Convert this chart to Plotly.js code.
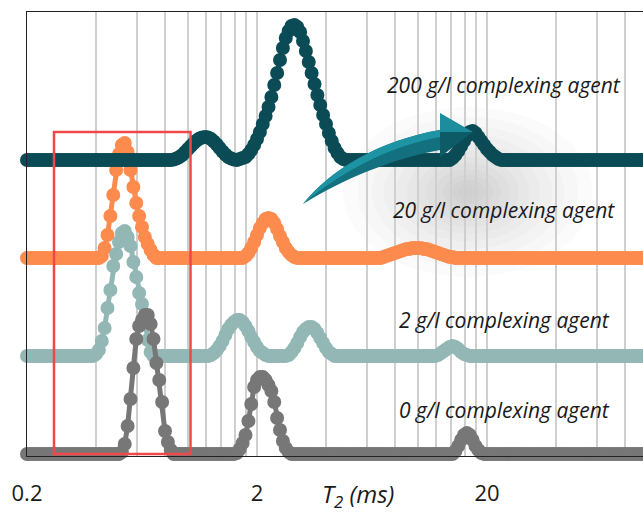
<!DOCTYPE html>
<html>
<head>
<meta charset="utf-8">
<script src="https://cdn.plot.ly/plotly-3.0.1.min.js"></script>
<style>html,body{margin:0;padding:0;background:#fff}#chart{width:643px;height:513px}</style>
</head>
<body>
<div id="chart"></div>
<script>
// T2 sampling grid (ms), log-spaced as in the measurement
const T2 = [
0.2,0.20584,0.21186,0.21804,0.2244,0.23096,0.2377,0.24464,0.25178,0.25914,
0.2667,0.2745,0.2825,0.29076,0.29924,0.30798,0.31698,0.32624,0.33576,0.34556,
0.35566,0.36604,0.37672,0.38774,0.39906,0.4107,0.4227,0.43504,0.44774,0.46082,
0.47428,0.48812,0.50238,0.51704,0.53214,0.54768,0.56368,0.58014,0.59708,0.61452,
0.63246,0.65092,0.66994,0.6895,0.70962,0.73034,0.75168,0.77362,0.79622,0.81946,
0.8434,0.86802,0.89336,0.91946,0.9463,0.97394,1.00238,1.03164,1.06238,1.09278,
1.12468,1.15752,1.19132,1.22612,1.26192,1.29876,1.33668,1.37572,1.4159,1.45724,
1.49978,1.54358,1.58866,1.63504,1.6828,1.73192,1.7825,1.83456,1.88812,1.94326,
2,2.0584,2.1186,2.1804,2.244,2.3096,2.377,2.4464,2.5178,2.5914,
2.667,2.745,2.825,2.9076,2.9924,3.0798,3.1698,3.2624,3.3576,3.4556,
3.5566,3.6604,3.7672,3.8774,3.9906,4.107,4.227,4.3504,4.4774,4.6082,
4.7428,4.8812,5.0238,5.1704,5.3214,5.4768,5.6368,5.8014,5.9708,6.1452,
6.3246,6.5092,6.6994,6.895,7.0962,7.3034,7.5168,7.7362,7.9622,8.1946,
8.434,8.6802,8.9336,9.1946,9.463,9.7394,10.0238,10.3164,10.6238,10.9278,
11.2468,11.5752,11.9132,12.2612,12.6192,12.9876,13.3668,13.7572,14.159,14.5724,
14.9978,15.4358,15.8866,16.3504,16.828,17.3192,17.825,18.3456,18.8812,19.4326,
20,20.584,21.186,21.804,22.44,23.096,23.77,24.464,25.178,25.914,
26.67,27.45,28.25,29.076,29.924,30.798,31.698,32.624,33.576,34.556,
35.566,36.604,37.672,38.774,39.906,41.07,42.27,43.504,44.774,46.082,
47.428,48.812,50.238,51.704,53.214,54.768,56.368,58.014,59.708,61.452,
63.246,65.092,66.994,68.95,70.962,73.034,75.168,77.362,79.622,81.946,
84.34,86.802,89.336,91.946,94.63,97.394
];

// amplitudes (arbitrary units) per concentration
const amp200 = [
0,0,0,0,0,0,0,0,0,0,
0,0,0,0,0,0,0,0,0,0,
0,0,0,0,0,0,0,0,0,0,
0,0,0,0,0,0,0,0,0,0,
0,0,0,0,0,0,0,0,0,0,
0,0.5,1.5,3,5,8,11,14,17,19.5,
21.5,22.5,23,22.5,21,18.5,15.5,12,8.5,5.5,
3,1.5,0.5,0,1,2,3,6,10,15,
21,28,36,44,53,63,75,87,100,112,
122,129,134,135,133,128,119,109,98,87,
76,65,55,45,36,27,19,12,7,3,
1,0,0,0,0,0,0,0,0,0,
0,0,0,0,0,0,0,0,0,0,
0,0,0,0,0,0,0,0,0,0,
0,0,0,0,0,0,0,0,2,5,
9,14,19,24,28,29,27,23,19,15,
11,8,5,3,1,0,0,0,0,0,
0,0,0,0,0,0,0,0,0,0,
0,0,0,0,0,0,0,0,0,0,
0,0,0,0,0,0,0,0,0,0,
0,0,0,0,0,0,0,0,0,0,
0,0,0,0,0,0
];
const amp20 = [
0,0,0,0,0,0,0,0,0,0,
0,0,0,0,0,0,0,0,0,0,
0,0,0,0,0,0,2,10,23,42,
63,88,104,113,115,106,88,71,55,42,
31,21,14,8,3,0,0,0,0,0,
0,0,0,0,0,0,0,0,0,0,
0,0,0,0,0,0,0,0,0,0,
0,0,0,0,0,0,2,5,10,16,
23,30,35,39,40,39,35,29,22,16,
10,6,3,1,0,0,0,0,0,0,
0,0,0,0,0,0,0,0,0,0,
0,0,0,0,0,0,0,0,0,0,
0,0,0,0,1,2,3,4,5,6,
7,8,9,9,10,10,10,10,9,9,
8,7,6,5,4,3,2,1,1,0,
0,0,0,0,0,0,0,0,0,0,
0,0,0,0,0,0,0,0,0,0,
0,0,0,0,0,0,0,0,0,0,
0,0,0,0,0,0,0,0,0,0,
0,0,0,0,0,0,0,0,0,0,
0,0,0,0,0,0,0,0,0,0,
0,0,0,0,0,0
];
const amp2 = [
0,0,0,0,0,0,0,0,0,0,
0,0,0,0,0,0,0,0,0,0,
0,0,0,0,2,6,15,28,48,66,
90,102,114,123,125,119,110,94,79,63,
52,38,16,4,0,0,0,0,0,0,
0,0,0,0,0,0,0,0,0,0,
0,0,0,0,1,3,6,10,15,21,
27,31,34,36,36,34,30,25,19,14,
9,5,3,1,0,0,0,0,0,0,
0,1,4,8,13,19,24,27,29,29,
27,23,18,13,8,4,2,0,0,0,
0,0,0,0,0,0,0,0,0,0,
0,0,0,0,0,0,0,0,0,0,
0,0,0,0,0,0,0,0,0,0,
0,0,0,1,3,5,7,9,10,9,
7,4,2,1,0,0,0,0,0,0,
0,0,0,0,0,0,0,0,0,0,
0,0,0,0,0,0,0,0,0,0,
0,0,0,0,0,0,0,0,0,0,
0,0,0,0,0,0,0,0,0,0,
0,0,0,0,0,0,0,0,0,0,
0,0,0,0,0,0
];
const amp0 = [
0,0,0,0,0,0,0,0,0,0,
0,0,0,0,0,0,0,0,0,0,
0,0,0,0,0,0,0,0,0,0,
0,0,0,2,10,28,55,86,115,128,
134,139,139,130,115,91,74,52,23,12,
4,0,0,0,0,0,0,0,0,0,
0,0,0,0,0,0,0,0,0,0,
0,0,0,1,5,11,19,33,50,67,
74,77,77,74,69,63,52,36,24,13,
6,2,0,0,0,0,0,0,0,0,
0,0,0,0,0,0,0,0,0,0,
0,0,0,0,0,0,0,0,0,0,
0,0,0,0,0,0,0,0,0,0,
0,0,0,0,0,0,0,0,0,0,
0,0,0,0,0,0,0,0,0,3,
8,14,19,21,19,14,8,4,1,0,
0,0,0,0,0,0,0,0,0,0,
0,0,0,0,0,0,0,0,0,0,
0,0,0,0,0,0,0,0,0,0,
0,0,0,0,0,0,0,0,0,0,
0,0,0,0,0,0,0,0,0,0,
0,0,0,0,0,0
];

const seriesLabels = ['200 g/l complexing agent','20 g/l complexing agent','2 g/l complexing agent','0 g/l complexing agent'];
const tickVals = [0.2, 2, 20];
const tickLabels = ['0.2', '2', '20'];
const gridVals = [0.4,0.6,0.8,1,1.2,1.4,1.6,1.8,4,6,8,10,12,14,16,18,40,60,80];

// ---- presentation ----
const offsets = {c200:296, c20:198, c2:100, c0:2};
const colors = {c200:'#0b4b55', c20:'#fd8b4e', c2:'#93b7b5', c0:'#777777'};
const FONT = 'Open Sans, "Segoe UI", sans-serif';
const GRID = '#cfcfcf';

function trace(amps, off, color){
  return {
    x: T2, y: amps.map(v => v + off), type:'scatter', mode:'lines+markers',
    line:{color:color, width:5}, marker:{color:color, size:14, line:{width:0}},
    cliponaxis:false, hoverinfo:'skip', showlegend:false
  };
}
const data = [
  trace(amp20, offsets.c20, colors.c20),
  trace(amp200, offsets.c200, colors.c200),
  trace(amp2, offsets.c2, colors.c2),
  trace(amp0, offsets.c0, colors.c0)
];

const L=27, R=643, TOP=12, BOT=456;
const px2x = p => (p-L)/(R-L);
const py2y = p => (BOT-p)/(BOT-TOP);
const pt = (x,y) => px2x(x).toFixed(4)+','+py2y(y).toFixed(4);

const shapes = [];
// soft shadow under the arrow
[[125,85],[110,75],[96,66],[84,57],[72,49],[61,42],[51,35],[42,29],[33,23],[25,17],[17,12],[10,7]].forEach(r=>{
  shapes.push({type:'circle', xref:'paper', yref:'paper', layer:'below',
    x0:px2x(468-r[0]), x1:px2x(468+r[0]), y0:py2y(192+r[1]), y1:py2y(192-r[1]),
    fillcolor:'rgba(80,80,80,0.022)', line:{width:0}});
});
// arrow body
shapes.push({type:'path', xref:'paper', yref:'paper', layer:'above',
  path:`M${pt(303,204)} C${pt(330,170)} ${pt(380,140)} ${pt(440,130)} L${pt(440,150)} C${pt(395,158)} ${pt(345,178)} ${pt(303,204)} Z`,
  fillcolor:'#13707f', line:{width:0}});
shapes.push({type:'path', xref:'paper', yref:'paper', layer:'above',
  path:`M${pt(303,204)} C${pt(330,170)} ${pt(380,140)} ${pt(440,130)} L${pt(440,137)} C${pt(388,146)} ${pt(338,174)} ${pt(303,204)} Z`,
  fillcolor:'#1d93a3', line:{width:0}});
// arrow head
shapes.push({type:'path', xref:'paper', yref:'paper', layer:'above',
  path:`M${pt(440,113)} L${pt(473,132)} L${pt(440,132)} Z`, fillcolor:'#1c8d9d', line:{width:0}});
shapes.push({type:'path', xref:'paper', yref:'paper', layer:'above',
  path:`M${pt(440,132)} L${pt(473,132)} L${pt(440,157)} Z`, fillcolor:'#0d5b67', line:{width:0}});
// red highlight box
shapes.push({type:'rect', xref:'paper', yref:'paper', layer:'above',
  x0:px2x(54), x1:px2x(190.5), y0:py2y(454), y1:py2y(132),
  line:{color:'#f04848', width:2.5}, fillcolor:'rgba(0,0,0,0)'});

const labelY = [85, 210, 320, 410];
const annotations = seriesLabels.map((t,i)=>({
  text:'<i>'+t+'</i>', xref:'paper', yref:'paper', x:px2x(504), y:py2y(labelY[i]),
  xanchor:'center', yanchor:'middle', showarrow:false,
  font:{family:FONT, size:21, color:'#1a1a1a'}
}));
annotations.push({text:'<i>T<sub>2</sub> (ms)</i>', xref:'paper', yref:'paper',
  x:px2x(358), y:py2y(495), xanchor:'center', yanchor:'middle', showarrow:false,
  font:{family:FONT, size:24, color:'#1a1a1a'}});

const layout = {
  width:643, height:513,
  margin:{l:L, r:0, t:TOP, b:513-BOT, pad:0},
  paper_bgcolor:'#ffffff', plot_bgcolor:'#ffffff',
  showlegend:false,
  xaxis:{type:'log', range:[Math.log10(0.2), Math.log10(0.2)+2.67826],
    tickmode:'array', tickvals:tickVals, ticktext:tickLabels,
    showgrid:true, gridcolor:GRID, gridwidth:2,
    minor:{tickmode:'array', tickvals:gridVals, showgrid:true, gridcolor:GRID, gridwidth:2, ticks:''},
    ticks:'', ticklabelstandoff:18,
    tickfont:{family:FONT, size:22, color:'#1a1a1a'},
    showline:true, linecolor:'#222', linewidth:1, mirror:true,
    zeroline:false, automargin:false, fixedrange:true},
  yaxis:{range:[0,444], showgrid:false, showticklabels:false, ticks:'',
    showline:true, linecolor:'#222', linewidth:1, zeroline:false,
    automargin:false, fixedrange:true},
  shapes:shapes, annotations:annotations
};

Plotly.newPlot('chart', data, layout, {displayModeBar:false, staticPlot:true});
</script>
</body>
</html>
